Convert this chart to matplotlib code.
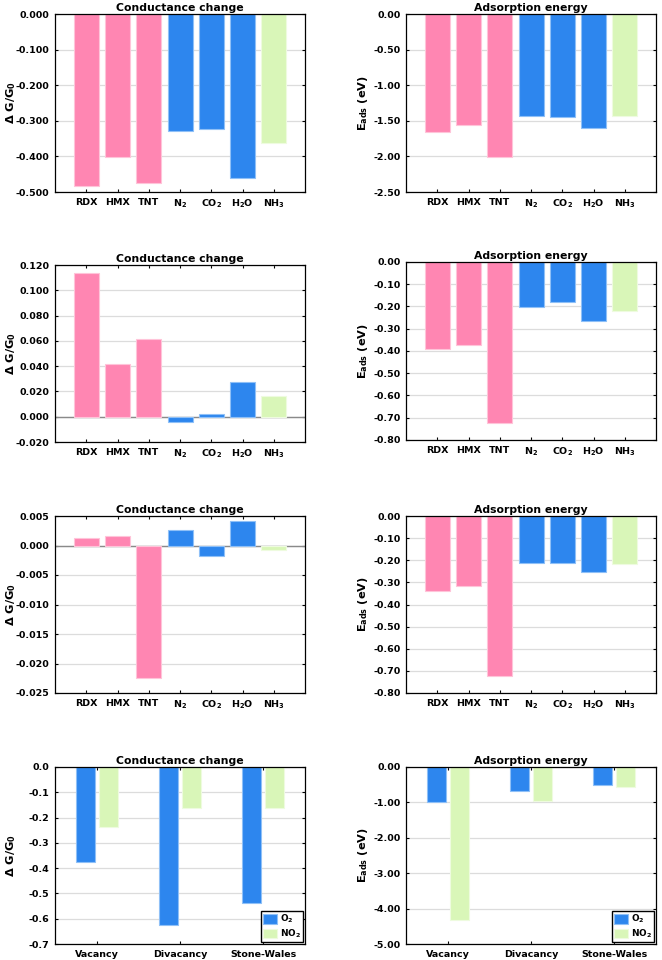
import matplotlib
matplotlib.use("Agg")
import matplotlib.pyplot as plt
import numpy as np

plt.rcParams['font.family'] = ['DejaVu Sans']
plt.rcParams['font.weight'] = 'bold'
plt.rcParams['mathtext.default'] = 'bf'

molecules = ['RDX', 'HMX', 'TNT', 'N$_2$', 'CO$_2$', 'H$_2$O', 'NH$_3$']
mol_groups = ['pink', 'pink', 'pink', 'blue', 'blue', 'blue', 'green']

cond_row1 = [-0.482, -0.401, -0.474, -0.329, -0.324, -0.462, -0.363]
ads_row1 = [-1.655, -1.553, -2.008, -1.427, -1.445, -1.600, -1.427]
cond_row2 = [0.1139, 0.0419, 0.0617, -0.0045, 0.0024, 0.0274, 0.0166]
ads_row2 = [-0.389, -0.375, -0.722, -0.203, -0.180, -0.266, -0.218]
cond_row3 = [0.00124, 0.00169, -0.0225, 0.0027, -0.00186, 0.0041, -0.00084]
ads_row3 = [-0.339, -0.317, -0.725, -0.212, -0.213, -0.252, -0.219]

defects = ['Vacancy', 'Divacancy', 'Stone-Wales']
gases = ['O$_2$', 'NO$_2$']
cond_O2 = [-0.374, -0.624, -0.539]
cond_NO2 = [-0.237, -0.162, -0.163]
ads_O2 = [-0.976, -0.675, -0.507]
ads_NO2 = [-4.334, -0.948, -0.572]

colors = {'pink': '#FF86B2', 'blue': '#2D86EE', 'green': '#D9F6B8'}
edges = {'pink': '#FFC4D9', 'blue': '#8FC0F7', 'green': '#EEFBDF'}

W, H = 662, 960
fig = plt.figure(figsize=(W / 100, H / 100), dpi=100)


def make_ax(x0, y0, x1, y1):
    return fig.add_axes([x0 / W, 1 - y1 / H, (x1 - x0) / W, (y1 - y0) / H])


TICK_FS = 6.8
LAB_FS = 8.2
TITLE_FS = 7.8


def style(ax, title, ylabel, yticks, fmt, label_x, zero_line=False):
    ax.set_title(title, fontsize=TITLE_FS, fontweight='bold', pad=2)
    ax.set_ylabel(ylabel, fontsize=LAB_FS, fontweight='bold')
    ax.yaxis.set_label_coords(label_x, 0.5)
    ax.set_yticks(yticks)
    ax.set_yticklabels([fmt.format(v) for v in yticks], fontsize=TICK_FS, fontweight='bold')
    ax.set_ylim(yticks[0], yticks[-1])
    ax.grid(axis='y', color='#dcdcdc', lw=0.9)
    ax.set_axisbelow(True)
    ax.tick_params(direction='in', length=2.5, width=0.8, top=True, right=True,
                   labelsize=TICK_FS)
    ax.tick_params(axis='y', pad=4)
    ax.tick_params(axis='x', pad=4)
    for s in ax.spines.values():
        s.set_linewidth(0.9)
    if zero_line:
        ax.axhline(0, color='#8a8a8a', lw=1.0, zorder=1.5)


def mol_panel(ax, values, title, ylabel, yticks, fmt, label_x, zero_line=False):
    x = np.arange(1, len(molecules) + 1)
    ax.bar(x, values, width=0.8, color=[colors[g] for g in mol_groups],
           edgecolor=[edges[g] for g in mol_groups], lw=0.8, zorder=2)
    ax.set_xlim(0, 8)
    ax.set_xticks(x)
    ax.set_xticklabels(molecules, fontsize=TICK_FS, fontweight='bold')
    style(ax, title, ylabel, yticks, fmt, label_x, zero_line)


def defect_panel(ax, v1, v2, title, ylabel, yticks, fmt, label_x):
    x = np.arange(1, len(defects) + 1)
    ax.bar(x - 0.138, v1, width=0.23, color=colors['blue'], edgecolor=edges['blue'],
           lw=0.8, zorder=2, label=gases[0])
    ax.bar(x + 0.138, v2, width=0.23, color=colors['green'], edgecolor=edges['green'],
           lw=0.8, zorder=2, label=gases[1])
    ax.set_xlim(0.5, 3.5)
    ax.set_xticks(x)
    ax.set_xticklabels(defects, fontsize=TICK_FS, fontweight='bold')
    style(ax, title, ylabel, yticks, fmt, label_x)
    leg = ax.legend(loc='lower right', fontsize=6.4, frameon=True, fancybox=False,
                    edgecolor='black', handlelength=1.6, handleheight=1.3,
                    handletextpad=0.3, borderpad=0.2, borderaxespad=0.25,
                    labelspacing=0.25)
    leg.get_frame().set_linewidth(1.0)
    leg.get_frame().set_alpha(1)


dG = r'$\Delta$ G/G$_0$'
Eads = r'E$_{ads}$ (eV)'
LX = -0.15
RX = -0.145

lx0, lx1 = 55, 305
rx0, rx1 = 406, 656

ax = make_ax(lx0, 14, lx1, 192)
mol_panel(ax, cond_row1, 'Conductance change', dG, [-0.5, -0.4, -0.3, -0.2, -0.1, 0.0], '{:.3f}', LX)
ax = make_ax(rx0, 14, rx1, 192)
mol_panel(ax, ads_row1, 'Adsorption energy', Eads, [-2.5, -2.0, -1.5, -1.0, -0.5, 0.0], '{:.2f}', RX)

ax = make_ax(lx0, 265, lx1, 442)
mol_panel(ax, cond_row2, 'Conductance change', dG, [-0.02, 0.0, 0.02, 0.04, 0.06, 0.08, 0.10, 0.12], '{:.3f}', LX, zero_line=True)
ax = make_ax(rx0, 262, rx1, 440)
mol_panel(ax, ads_row2, 'Adsorption energy', Eads, [-0.8, -0.7, -0.6, -0.5, -0.4, -0.3, -0.2, -0.1, 0.0], '{:.2f}', RX)

ax = make_ax(lx0, 516, lx1, 693)
mol_panel(ax, cond_row3, 'Conductance change', dG, [-0.025, -0.02, -0.015, -0.01, -0.005, 0.0, 0.005], '{:.3f}', LX, zero_line=True)
ax = make_ax(rx0, 516, rx1, 693)
mol_panel(ax, ads_row3, 'Adsorption energy', Eads, [-0.8, -0.7, -0.6, -0.5, -0.4, -0.3, -0.2, -0.1, 0.0], '{:.2f}', RX)

ax = make_ax(lx0, 767, lx1, 944)
defect_panel(ax, cond_O2, cond_NO2, 'Conductance change', dG, [-0.7, -0.6, -0.5, -0.4, -0.3, -0.2, -0.1, 0.0], '{:.1f}', LX)
ax = make_ax(rx0, 767, rx1, 944)
defect_panel(ax, ads_O2, ads_NO2, 'Adsorption energy', Eads, [-5.0, -4.0, -3.0, -2.0, -1.0, 0.0], '{:.2f}', RX)

fig.savefig('out.png', dpi=100)
